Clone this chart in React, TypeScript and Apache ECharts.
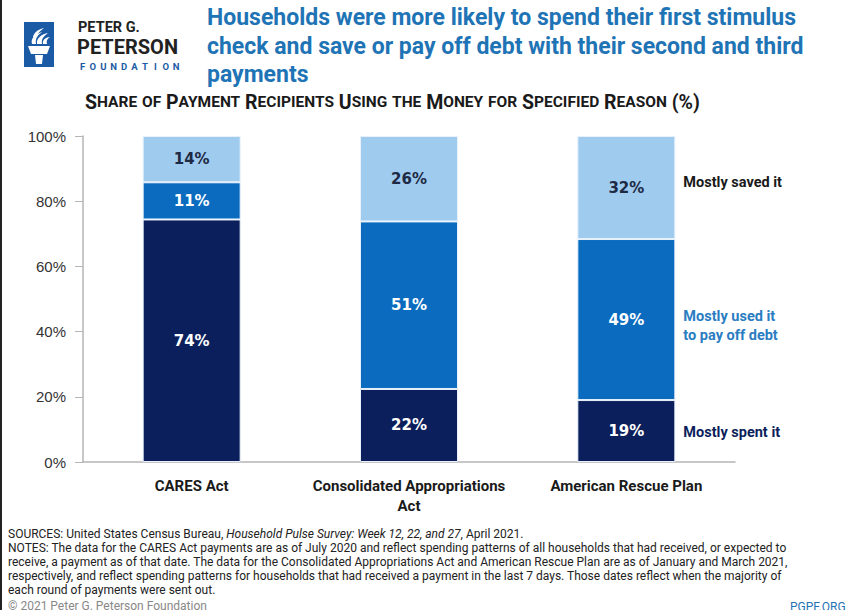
import React, { useEffect, useRef } from "react";
import * as echarts from "echarts";

const categories = ["CARES Act", "Consolidated Appropriations\nAct", "American Rescue Plan"];
const spentValues = [74.4, 22.4, 19.0];
const debtValues = [11.4, 51.4, 49.4];
const savedValues = [14.2, 26.2, 31.6];
const yTicks = [0, 20, 40, 60, 80, 100];
const seriesNames = ["Mostly spent it", "Mostly used it\nto pay off debt", "Mostly saved it"];

const titleLines = [
  "Households were more likely to spend their first stimulus",
  "check and save or pay off debt with their second and third",
  "payments",
];
const subtitle = "Share of Payment Recipients Using the Money for Specified Reason (%)";
const notesLines = [
  "NOTES: The data for the CARES Act payments are as of July 2020 and reflect spending patterns of all households that had received, or expected to",
  "receive, a payment as of that date. The data for the Consolidated Appropriations Act and American Rescue Plan are as of January and March 2021,",
  "respectively, and reflect spending patterns for households that had received a payment in the last 7 days. Those dates reflect when the majority of",
  "each round of payments were sent out.",
];

const SANS = 'Roboto, "Liberation Sans", sans-serif';

const C_DARK = "#0b1f5c";
const C_MED = "#0b6cbf";
const C_LIGHT = "#9fcbee";

const torchPath =
  "M4 22 L26 22 L23 30 L7 30 Z M11 31 L19 31 L18 40 L12 40 Z " +
  "M8 20 C6 14 12 10 18 8 C14 11 11 14 12 20 Z M13 20 C12 14 18 10 24 9 C20 12 17 15 18 20 Z M19 20 C18 16 22 13 26 13 C23 15 22 17 23 20 Z M9 13 C10 8 15 5 20 4 C16 7 13 10 12 13 Z";
echarts.graphic.registerShape("torch", echarts.graphic.extendPath(torchPath, {}) as any);

function smallCapsRich(text: string) {
  let out = "";
  let buf = "";
  let mode: "b" | "s" | "" = "";
  const flush = () => {
    if (buf) out += `{${mode}|${buf}}`;
    buf = "";
  };
  for (const ch of text) {
    const isLower = ch >= "a" && ch <= "z";
    const m = isLower ? "s" : "b";
    if (m !== mode) {
      flush();
      mode = m;
    }
    buf += isLower ? ch.toUpperCase() : ch;
  }
  flush();
  return out;
}

export default function App() {
  const ref = useRef<HTMLDivElement>(null);
  useEffect(() => {
    if (!ref.current) return;
    const chart = echarts.init(ref.current, undefined, { renderer: "svg" });

    const last = categories[2];
    const mkPoint = (name: string, y: number, color: string) => ({
      symbol: "rect",
      symbolSize: 0,
      silent: true,
      data: [
        {
          coord: [last, y],
          label: {
            show: true,
            formatter: name,
            position: "inside",
            offset: [57, 0],
            align: "left",
            verticalAlign: "middle",
            color,
            fontFamily: SANS,
            fontWeight: "bold",
            fontSize: 14.5,
            lineHeight: 19,
          },
        },
      ],
    });

    const barLabel = (color: string) => ({
      show: true,
      position: "inside",
      color,
      fontWeight: "bold",
      fontSize: 15,
      fontFamily: '"DejaVu Sans", sans-serif',
      formatter: (p: any) => Math.round(p.value) + "%",
    });

    const footerGraphics: any[] = [];
    footerGraphics.push({
      type: "text",
      left: 8,
      top: 528,
      style: {
        text: "{n|SOURCES: United States Census Bureau, }{i|Household Pulse Survey: Week 12, 22, and 27}{n|, April 2021.}",
        rich: {
          n: { fontFamily: SANS, fontSize: 12, fill: "#222" },
          i: { fontFamily: SANS, fontSize: 12, fontStyle: "italic", fill: "#222" },
        },
      },
    });
    notesLines.forEach((line, i) => {
      footerGraphics.push({
        type: "text",
        left: 8,
        top: 542 + i * 14,
        style: { text: line, font: `12px ${SANS}`, fill: "#222" },
      });
    });
    footerGraphics.push({
      type: "text",
      left: 8,
      top: 600,
      style: { text: "© 2021 Peter G. Peterson Foundation", font: `12px ${SANS}`, fill: "#888" },
    });
    footerGraphics.push({
      type: "text",
      left: 790,
      top: 601,
      style: { text: "PGPF.ORG", font: `12px ${SANS}`, fill: "#1f74b5" },
    });

    const foundation = "FOUNDATION".split("").map((ch, i) => ({
      type: "text",
      x: 82.5 + i * 10.4,
      y: 61,
      style: {
        text: ch,
        fontFamily: SANS,
        fontWeight: "bold",
        fontSize: 9.5,
        lineHeight: 10,
        fill: "#1b5aa5",
        align: "center",
      },
    }));

    chart.setOption({
      animation: false,
      backgroundColor: "#fff",
      grid: { left: 83, width: 652, top: 136, height: 326 },
      xAxis: {
        type: "category",
        data: categories,
        axisLine: { show: true, lineStyle: { color: "#b5b5b5", width: 1.5 } },
        axisTick: { show: false },
        axisLabel: {
          interval: 0,
          color: "#1a1a1a",
          fontFamily: SANS,
          fontWeight: "bold",
          fontSize: 15,
          lineHeight: 20,
          margin: 14,
        },
      },
      yAxis: {
        type: "value",
        min: yTicks[0],
        max: yTicks[yTicks.length - 1],
        interval: 20,
        splitLine: { show: false },
        axisLine: { show: true, lineStyle: { color: "#b5b5b5", width: 1.5 } },
        axisTick: { show: true, length: 8, lineStyle: { color: "#b5b5b5" } },
        axisLabel: {
          formatter: "{value}%",
          color: "#333",
          fontFamily: '"Liberation Sans", Arial, sans-serif',
          fontSize: 15,
          margin: 17,
        },
      },
      series: [
        {
          name: seriesNames[0],
          type: "bar",
          stack: "a",
          data: spentValues,
          barWidth: 98,
          itemStyle: { color: C_DARK, borderColor: "#e8f1fb", borderWidth: 1 },
          label: barLabel("#ffffff"),
          markPoint: mkPoint(seriesNames[0], spentValues[2] * 0.47, C_DARK),
        },
        {
          name: seriesNames[1],
          type: "bar",
          stack: "a",
          data: debtValues,
          barWidth: 98,
          itemStyle: { color: C_MED, borderColor: "#e8f1fb", borderWidth: 1 },
          label: barLabel("#ffffff"),
          markPoint: mkPoint(seriesNames[1], spentValues[2] + debtValues[2] * 0.46, "#2b7dc2"),
        },
        {
          name: seriesNames[2],
          type: "bar",
          stack: "a",
          data: savedValues,
          barWidth: 98,
          itemStyle: { color: C_LIGHT, borderColor: "#e8f1fb", borderWidth: 1 },
          label: barLabel("#1e2a45"),
          markPoint: mkPoint(
            seriesNames[2],
            spentValues[2] + debtValues[2] + savedValues[2] * 0.55,
            "#1a1a1a"
          ),
        },
      ],
      graphic: [
        { type: "rect", shape: { x: 0, y: 0, width: 2, height: 610 }, style: { fill: "#222" } },
        { type: "rect", shape: { x: 24, y: 22, width: 30, height: 45 }, style: { fill: "#1b5aa5" } },
        { type: "torch", x: 24, y: 24, scaleX: 1, scaleY: 1, style: { fill: "#ffffff" } },
        {
          type: "text",
          x: 78,
          y: 19.5,
          style: {
            text: "PETER G.",
            fontFamily: SANS,
            fontWeight: "bold",
            fontSize: 14.5,
            lineHeight: 15,
            fill: "#222",
          },
        },
        {
          type: "text",
          x: 77,
          y: 37,
          style: {
            text: "PETERSON",
            fontFamily: SANS,
            fontWeight: "bold",
            fontSize: 20,
            lineHeight: 20,
            fill: "#222",
          },
        },
        ...foundation,
        ...titleLines.map((t, i) => ({
          type: "text",
          x: 207,
          y: 6 + i * 28.5,
          style: { text: t, font: `bold 23px ${SANS}`, fill: "#1f74b5" },
        })),
        {
          type: "text",
          x: 85,
          y: 92,
          style: {
            text: smallCapsRich(subtitle),
            rich: {
              b: { fontFamily: SANS, fontWeight: "bold", fontSize: 19.5, fill: "#1a1a1a" },
              s: { fontFamily: SANS, fontWeight: "bold", fontSize: 15.5, fill: "#1a1a1a" },
            },
          },
        },
        ...footerGraphics,
      ],
    });
    return () => chart.dispose();
  }, []);
  return (
    <div
      ref={ref}
      style={{ position: "fixed", left: 0, top: 0, width: 849, height: 610, background: "#fff" }}
    />
  );
}
